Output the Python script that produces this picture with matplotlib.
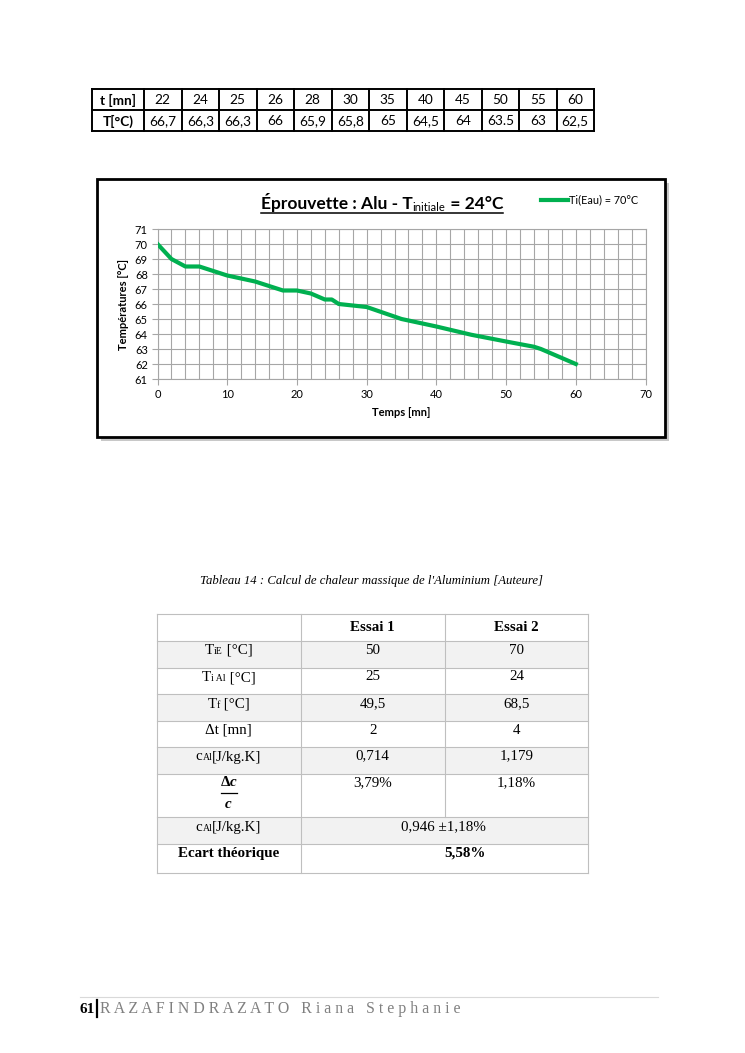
import matplotlib
matplotlib.use("Agg")
import matplotlib.pyplot as plt
from matplotlib.patches import Rectangle

plt.rcParams['mathtext.fontset'] = 'custom'
plt.rcParams['mathtext.rm'] = 'Liberation Serif'
plt.rcParams['mathtext.it'] = 'Liberation Serif:italic'
plt.rcParams['mathtext.bf'] = 'Liberation Serif:bold:italic'

# --- data -----------------------------------------------------------------
t_table = ['22', '24', '25', '26', '28', '30', '35', '40', '45', '50', '55', '60']
T_table = ['66,7', '66,3', '66,3', '66', '65,9', '65,8', '65', '64,5', '64', '63.5', '63', '62,5']

t_curve = [0, 2, 4, 6, 8, 10, 12, 14, 16, 18, 20, 22, 24, 25, 26, 28, 30, 35, 40, 45, 50, 54, 55, 60]
T_curve = [70, 69, 68.5, 68.5, 68.2, 67.9, 67.7, 67.5, 67.2, 66.9, 66.9, 66.7, 66.3, 66.3,
           66, 65.9, 65.8, 65, 64.5, 63.95, 63.5, 63.15, 63, 62]

essai1 = ['50', '25', '49,5', '2', '0,714', '3,79%']
essai2 = ['70', '24', '68,5', '4', '1,179', '1,18%']
c_moyen = '0,946 ±1,18%'
ecart = '5,58%'

W, H = 745, 1053
fig = plt.figure(figsize=(W / 100, H / 100), dpi=100)
page = fig.add_axes([0, 0, 1, 1])
page.set_xlim(0, W)
page.set_ylim(H, 0)
page.axis('off')
rend = fig.canvas.get_renderer()

CAL = 'Lato'
SER = 'Liberation Serif'


def runs(x, y, parts, center=True, color='black', family=SER):
    # parts: (text, size, dy, weight, style); placed one after the other on the same line
    objs = []
    for s, size, dy, weight, style in parts:
        objs.append(page.text(0, y + dy, s, fontsize=size, fontweight=weight, fontstyle=style,
                              family=family, color=color, va='baseline'))
    widths = [o.get_window_extent(rend).width for o in objs]
    start = x - sum(widths) / 2 if center else x
    x0 = start
    for o, w in zip(objs, widths):
        o.set_x(start)
        start += w
    return x0, start


# --- top table ------------------------------------------------------------
tx0, tx1 = 92, 594
ty = [89, 110, 131]
first_w = 52
col_w = (tx1 - tx0 - first_w) / len(t_table)
xs = [tx0, tx0 + first_w] + [tx0 + first_w + col_w * (i + 1) for i in range(len(t_table))]
for x in xs:
    page.plot([x, x], [ty[0], ty[2]], color='black', lw=1.4, solid_capstyle='projecting')
for y in ty:
    page.plot([tx0, tx1], [y, y], color='black', lw=1.4, solid_capstyle='projecting')
page.text(tx0 + first_w / 2, 100, 't [mn]', ha='center', va='center', family=CAL,
          fontweight='bold', fontsize=9.8)
page.text(tx0 + first_w / 2, 121, 'T[°C)', ha='center', va='center', family=CAL,
          fontweight='bold', fontsize=9.8)
for i, (a, b) in enumerate(zip(t_table, T_table)):
    cx = xs[i + 1] + col_w / 2
    page.text(cx, 100, a, ha='center', va='center', family=CAL, fontsize=9.8)
    page.text(cx, 121, b, ha='center', va='center', family=CAL, fontsize=9.8)

# --- chart frame ----------------------------------------------------------
page.add_patch(Rectangle((101, 183), 568, 258, facecolor='#c8c8c8', edgecolor='none', zorder=1))
page.add_patch(Rectangle((97, 179), 568, 258, facecolor='white', edgecolor='black', lw=2, zorder=2))

x0, x1 = runs(382, 209, [('Éprouvette : Alu - T', 12.5, 0, 'bold', 'normal'),
                         ('initiale', 8, 2, 'normal', 'normal'),
                         (' = 24°C', 12.5, 0, 'bold', 'normal')], family=CAL)
for t in page.texts[-3:]:
    t.set_zorder(3)
page.plot([x0, x1], [213, 213], color='black', lw=1.1, zorder=3)

page.plot([541, 568], [200, 200], color='#00b050', lw=3, zorder=3)
page.text(569, 200, 'Ti(Eau) = 70°C', family=CAL, fontsize=7.8, va='center', zorder=3)

ax = fig.add_axes([157.5 / W, 1 - 379 / H, (645.5 - 157.5) / W, 150 / H])
ax.set_zorder(5)
ax.plot(t_curve, T_curve, color='#00b050', lw=3, solid_joinstyle='round', zorder=3)
ax.set_xlim(0, 70)
ax.set_ylim(61, 71)
ax.set_xticks(range(0, 71, 10))
ax.set_xticks(range(0, 71, 2), minor=True)
ax.set_yticks(range(61, 72))
ax.grid(True, which='both', color='#a6a6a6', lw=0.8)
ax.tick_params(which='minor', length=0)
ax.tick_params(which='major', length=4, color='#a6a6a6', labelsize=8, pad=3)
for s in ax.spines.values():
    s.set_color('#a6a6a6')
    s.set_linewidth(0.8)
for lab in ax.get_xticklabels() + ax.get_yticklabels():
    lab.set_family(CAL)
ax.set_xlabel('Temps [mn]', family=CAL, fontweight='bold', fontsize=8, labelpad=5)
ax.set_ylabel('Températures [°C]', family=CAL, fontweight='bold', fontsize=8, labelpad=4)

# --- lower table ----------------------------------------------------------
page.text(372, 581, "Tableau 14 : Calcul de chaleur massique de l'Aluminium [Auteure]",
          ha='center', va='center', family=SER, style='italic', fontsize=9.2)

bx = [156.7, 300.7, 444.7, 588.3]
by = [614.3, 641, 667.7, 694.3, 721, 747.3, 774, 817.3, 844, 873.3]
shaded = [1, 3, 5, 7]
for r in shaded:
    page.add_patch(Rectangle((bx[0], by[r]), bx[3] - bx[0], by[r + 1] - by[r],
                             facecolor='#f2f2f2', edgecolor='none'))
for y in by:
    page.plot([bx[0], bx[3]], [y, y], color='#bfbfbf', lw=0.8)
page.plot([bx[0], bx[0]], [by[0], by[-1]], color='#bfbfbf', lw=0.8)
page.plot([bx[3], bx[3]], [by[0], by[-1]], color='#bfbfbf', lw=0.8)
page.plot([bx[1], bx[1]], [by[0], by[-1]], color='#bfbfbf', lw=0.8)
page.plot([bx[2], bx[2]], [by[0], by[7]], color='#bfbfbf', lw=0.8)

c0 = (bx[0] + bx[1]) / 2
c1 = (bx[1] + bx[2]) / 2
c2 = (bx[2] + bx[3]) / 2
fs = 10.8
page.text(c1, 627.5, 'Essai 1', ha='center', va='center', family=SER, fontweight='bold', fontsize=fs)
page.text(c2, 627.5, 'Essai 2', ha='center', va='center', family=SER, fontweight='bold', fontsize=fs)

sub = 7
runs(c0, 654, [('T', fs, 0, 'normal', 'normal'), ('iE', sub, 0, 'normal', 'normal'),
               (' [°C]', fs, 0, 'normal', 'normal')])
runs(c0, 681, [('T', fs, 0, 'normal', 'normal'), ('i Al', sub, 0, 'normal', 'normal'),
               (' [°C]', fs, 0, 'normal', 'normal')])
runs(c0, 707.5, [('T', fs, 0, 'normal', 'normal'), ('f', sub, 0, 'normal', 'normal'),
                 (' [°C]', fs, 0, 'normal', 'normal')])
runs(c0, 734, [('Δt [mn]', fs, 0, 'normal', 'normal')])
for yb in (760.5, 831):
    runs(c0, yb, [('c', fs, 0, 'normal', 'normal'), ('Al', sub, 0, 'normal', 'normal'),
                  ('[J/kg.K]', fs, 0, 'normal', 'normal')])
page.text(c0, 781.5, 'Δ$\\mathbf{c}$', ha='center', va='center', family=SER,
          fontweight='bold', fontsize=fs)
page.plot([c0 - 8, c0 + 8], [793, 793], color='black', lw=0.9)
page.text(c0, 803.5, '$\\mathbf{c}$', ha='center', va='center', fontsize=fs)

row_y = [650, 676.7, 703.3, 730, 756, 782.7]
for y, a, b in zip(row_y, essai1, essai2):
    page.text(c1, y, a, ha='center', va='center', family=SER, fontsize=fs)
    page.text(c2, y, b, ha='center', va='center', family=SER, fontsize=fs)
page.text(443, 826.7, c_moyen, ha='center', va='center', family=SER, fontsize=fs)
page.text(c0, 853.3, 'Ecart théorique', ha='center', va='center', family=SER,
          fontweight='bold', fontsize=fs)
page.text(465, 853.3, ecart, ha='center', va='center', family=SER, fontweight='bold', fontsize=fs)

# --- footer ---------------------------------------------------------------
page.plot([80, 658], [997, 997], color='#d9d9d9', lw=0.8)
page.text(80, 1013, '61', family=SER, fontweight='bold', fontsize=11, va='baseline')
page.plot([97, 97], [1000, 1017], color='black', lw=1.6)
page.text(100, 1013, 'R A Z A F I N D R A Z A T O   R i a n a   S t e p h a n i e',
          family=SER, fontsize=11.4, color='#808080', va='baseline')

fig.savefig('out.png', dpi=100)
